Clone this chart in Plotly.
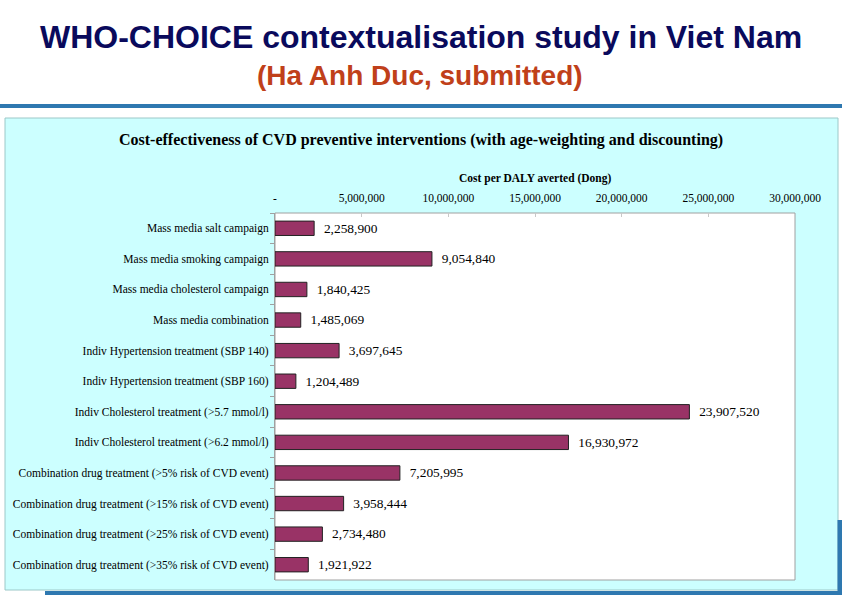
import plotly.graph_objects as go

categories = [
    "Mass media salt campaign",
    "Mass media smoking campaign",
    "Mass media cholesterol campaign",
    "Mass media combination",
    "Indiv Hypertension treatment (SBP 140)",
    "Indiv Hypertension treatment (SBP 160)",
    "Indiv Cholesterol treatment (>5.7 mmol/l)",
    "Indiv Cholesterol treatment (>6.2 mmol/l)",
    "Combination drug treatment (>5% risk of CVD event)",
    "Combination drug treatment (>15% risk of CVD event)",
    "Combination drug treatment (>25% risk of CVD event)",
    "Combination drug treatment (>35% risk of CVD event)",
]
values = [2258900, 9054840, 1840425, 1485069, 3697645, 1204489,
          23907520, 16930972, 7205995, 3958444, 2734480, 1921922]
tick_vals = [0, 5000000, 10000000, 15000000, 20000000, 25000000, 30000000]
tick_text = ["-", "5,000,000", "10,000,000", "15,000,000", "20,000,000", "25,000,000", "30,000,000"]

W, H = 842, 595
L, R, T, B = 275, 795, 213, 580

def px(x):
    return (x - L) / (R - L)

def py(y):
    return (B - y) / (B - T)

fig = go.Figure(go.Bar(
    x=values, y=categories, orientation="h",
    marker=dict(color="#993366", line=dict(color="#222222", width=1)),
    width=0.47,
    text=["  " + f"{v:,}" for v in values],
    textposition="outside",
    textfont=dict(family="Liberation Serif", size=14, color="black"),
    cliponaxis=False,
))

shapes = [
    dict(type="rect", xref="paper", yref="paper", x0=px(5), x1=px(838), y0=py(590), y1=py(118),
         fillcolor="#CCFFFF", line=dict(color="#9CC8C8", width=1), layer="below"),
    dict(type="rect", xref="paper", yref="paper", x0=0, x1=1, y0=0, y1=1,
         fillcolor="white", line=dict(color="#A0A0A0", width=1), layer="below"),
    dict(type="line", xref="paper", yref="paper", x0=px(0), x1=px(842), y0=py(106), y1=py(106),
         line=dict(color="#2E78B0", width=4)),
    dict(type="line", xref="paper", yref="paper", x0=px(45), x1=px(842), y0=py(593), y1=py(593),
         line=dict(color="#2E78B0", width=4)),
    dict(type="line", xref="paper", yref="paper", x0=px(840), x1=px(840), y0=py(520), y1=py(595),
         line=dict(color="#2E78B0", width=5)),
]

annotations = [
    dict(text="<b>WHO-CHOICE contextualisation study in Viet Nam</b>", xref="paper", yref="paper",
         x=px(421), y=py(37), xanchor="center", yanchor="middle", showarrow=False,
         font=dict(family="Liberation Sans", size=32, color="#0A0A5C")),
    dict(text="<b>(Ha Anh Duc, submitted)</b>", xref="paper", yref="paper",
         x=px(420), y=py(76), xanchor="center", yanchor="middle", showarrow=False,
         font=dict(family="Liberation Sans", size=28, color="#C0401A")),
    dict(text="<b>Cost-effectiveness of CVD preventive interventions (with age-weighting and discounting)</b>",
         xref="paper", yref="paper", x=px(421), y=py(140), xanchor="center", yanchor="middle",
         showarrow=False, font=dict(family="Liberation Serif", size=16, color="black")),
    dict(text="<b>Cost per DALY averted (Dong)</b>", xref="paper", yref="paper",
         x=px(535), y=py(178), xanchor="center", yanchor="middle", showarrow=False,
         font=dict(family="Liberation Serif", size=11.5, color="black")),
]

fig.update_layout(
    width=W, height=H,
    margin=dict(l=L, r=W - R, t=T, b=H - B),
    paper_bgcolor="white", plot_bgcolor="white",
    showlegend=False,
    shapes=shapes, annotations=annotations,
    xaxis=dict(side="top", range=[0, 30000000], tickvals=tick_vals, ticktext=tick_text,
               showgrid=False, zeroline=False, ticks="inside", ticklen=4, tickcolor="#C8C8C8",
               tickfont=dict(family="Liberation Serif", size=11.5, color="black"), ticklabelstandoff=8,
               showline=False),
    yaxis=dict(autorange="reversed", tickson="boundaries", ticks="outside", ticklen=4,
               tickcolor="#A0A0A0", showline=True, linecolor="#A0A0A0", linewidth=1,
               tickfont=dict(family="Liberation Serif", size=11.5, color="black"),
               showgrid=False, ticklabelstandoff=3),
)

fig.write_html("out.html", config={"displayModeBar": False},
               post_script="document.body.style.margin='0';document.body.style.overflow='hidden';")
